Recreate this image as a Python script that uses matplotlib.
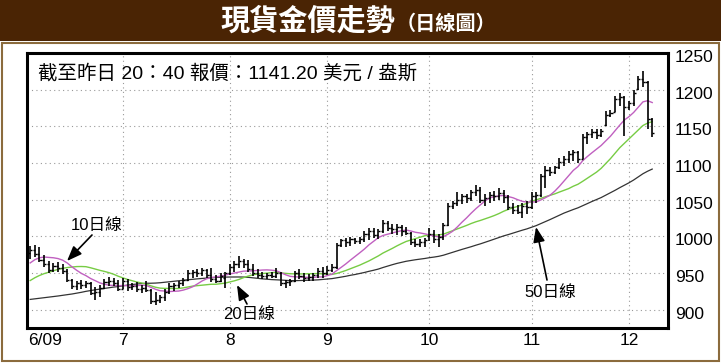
import matplotlib
matplotlib.use('Agg')
import matplotlib.pyplot as plt
import pandas as pd
from matplotlib.patches import Rectangle
import matplotlib.transforms as mtransforms

CJK = ['Liberation Sans', 'Noto Sans CJK TC', 'DejaVu Sans']

# closes before the first visible bar (only feed the moving averages)
warmup_close = [935, 930, 925, 918, 922, 915, 905, 898, 888, 880, 876, 870, 868, 875, 882,
                888, 892, 895, 893, 889, 886, 890, 895, 901, 906, 910, 903, 895, 890, 894,
                900, 906, 912, 915, 918, 922, 925, 920, 918, 924,
                932, 942, 952, 960, 965, 968, 975, 980, 984]

opens = [978, 982, 976, 968, 962, 955, 960, 957, 953, 941, 932, 936, 934, 937, 923, 925, 930, 938, 940, 937,
         929, 940, 931, 933, 928, 930, 927, 912, 914, 917, 925, 933, 934, 937, 941, 950, 952, 950, 954, 948, 942, 940, 944,
         950, 958, 962, 966, 962, 956, 950, 947, 946, 948, 946, 950, 936, 938, 940, 950, 946, 944, 945, 947, 953,
         950, 954, 958, 988, 995, 993, 996, 994, 997, 1004, 1008, 1002, 1007, 1018, 1012, 1010, 1013, 1008, 1005, 992, 990, 993,
         1000, 1004, 996, 999, 1016, 1041, 1045, 1050, 1055, 1052, 1060, 1064, 1050, 1053, 1057, 1055, 1059, 1054, 1040, 1036, 1034, 1041,
         1040, 1055, 1057, 1082, 1090, 1088, 1094, 1102, 1106, 1112, 1115, 1106, 1136, 1139, 1142, 1138, 1152, 1166, 1170, 1188, 1190,
         1176, 1182, 1201, 1214, 1210, 1160]
highs = [987, 988, 985, 975, 966, 964, 965, 962, 956, 942, 940, 941, 940, 938, 931, 934, 942, 945, 944, 941,
         944, 942, 936, 938, 934, 939, 928, 925, 920, 929, 936, 937, 940, 944, 954, 955, 956, 957, 956, 957, 947, 950, 952,
         962, 966, 974, 970, 968, 963, 956, 951, 950, 951, 957, 951, 941, 942, 953, 956, 950, 949, 950, 957, 958,
         960, 963, 991, 997, 998, 999, 998, 999, 1008, 1011, 1011, 1010, 1022, 1021, 1017, 1017, 1016, 1013, 1006, 997, 996, 998,
         1011, 1009, 1004, 1019, 1045, 1049, 1060, 1058, 1058, 1063, 1070, 1068, 1058, 1060, 1062, 1066, 1063, 1057, 1045, 1043, 1045, 1049,
         1060, 1060, 1085, 1096, 1094, 1096, 1107, 1110, 1117, 1118, 1117, 1140, 1142, 1147, 1146, 1147, 1171, 1172, 1192, 1195, 1192,
         1185, 1200, 1218, 1226, 1212, 1162]
lows = [970, 972, 965, 958, 950, 951, 952, 949, 938, 928, 927, 929, 930, 920, 913, 918, 928, 933, 932, 926,
        928, 926, 927, 925, 923, 924, 908, 906, 910, 912, 922, 926, 930, 932, 940, 944, 945, 946, 943, 938, 937, 938, 930,
        948, 951, 957, 957, 952, 946, 944, 942, 942, 943, 944, 932, 930, 933, 938, 942, 938, 939, 940, 944, 944,
        947, 951, 956, 985, 986, 987, 990, 990, 992, 995, 998, 997, 1005, 1007, 1004, 1002, 1001, 1002, 988, 986, 985, 986,
        994, 991, 986, 995, 1014, 1038, 1042, 1044, 1046, 1049, 1055, 1045, 1042, 1046, 1049, 1050, 1046, 1036, 1030, 1031, 1025, 1030,
        1038, 1046, 1054, 1066, 1083, 1085, 1092, 1096, 1100, 1103, 1100, 1105, 1126, 1134, 1133, 1135, 1150, 1163, 1170, 1178, 1137,
        1172, 1178, 1200, 1204, 1147, 1135]
closes = [982, 976, 968, 962, 955, 960, 957, 953, 941, 932, 936, 934, 937, 923, 925, 930, 938, 940, 937, 929,
          940, 931, 933, 928, 930, 927, 912, 914, 917, 925, 933, 934, 937, 941, 950, 952, 950, 954, 948, 942, 940, 946, 950,
          958, 962, 966, 962, 956, 950, 947, 946, 948, 946, 950, 936, 938, 940, 950, 946, 944, 945, 947, 953, 950,
          954, 958, 988, 995, 993, 996, 994, 997, 1004, 1008, 1002, 1007, 1018, 1012, 1010, 1013, 1008, 1005, 992, 990, 993, 995,
          1004, 996, 999, 1016, 1041, 1045, 1050, 1055, 1052, 1060, 1064, 1050, 1053, 1057, 1055, 1059, 1054, 1040, 1036, 1034, 1041, 1040,
          1055, 1057, 1082, 1090, 1088, 1094, 1102, 1106, 1112, 1115, 1106, 1136, 1139, 1142, 1138, 1144, 1166, 1168, 1188, 1190, 1176,
          1182, 1196, 1214, 1210, 1160, 1141]

month_labels = ['7', '8', '9', '10', '11', '12']
month_starts = ['2009-07-01', '2009-08-03', '2009-09-01', '2009-10-01', '2009-11-02', '2009-12-01']
y_ticks = [900, 950, 1000, 1050, 1100, 1150, 1200, 1250]

days = pd.bdate_range('2009-06-03', '2009-12-08')
x = list(range(len(days)))
month_pos = [days.get_loc(pd.Timestamp(d)) for d in month_starts]

full = pd.Series(warmup_close + closes)
n0 = len(warmup_close)
ma10 = full.rolling(10).mean().iloc[n0:].values
ma20 = full.rolling(20).mean().iloc[n0:].values
ma50 = full.rolling(50).mean().iloc[n0:].values

fig = plt.figure(figsize=(7.21, 3.63), dpi=100)
fig.patch.set_facecolor('white')

# banner + outer border
fig.patches.append(Rectangle((0, 1 - 41 / 363), 1, 41 / 363, transform=fig.transFigure,
                             facecolor='#4a2404', edgecolor='none', zorder=0))
fig.patches.append(Rectangle((1.5 / 721, 2 / 363), 717.5 / 721, 318 / 363, transform=fig.transFigure,
                             facecolor='none', edgecolor='#8b6b3d', lw=1.5, zorder=0))
fig.text(308 / 721, 1 - 21 / 363, '現貨金價走勢', color='white', fontsize=21, fontweight='bold',
         family='Noto Sans CJK TC', ha='center', va='center')
fig.text(446 / 721, 1 - 23 / 363, '（日線圖）', color='white', fontsize=14.5, fontweight='bold',
         family='Noto Sans CJK TC', ha='center', va='center')

ax = fig.add_axes([27 / 721, 1 - 327.5 / 363, 641 / 721, 274.5 / 363])
ax.set_xlim(-0.69, 137.4)
ax.set_ylim(876, 1250)

for m in month_pos:
    ax.axvline(m, color='#999999', lw=0.8, ls=(0, (1, 3)), zorder=1)
for v in y_ticks[:-1]:
    ax.axhline(v, color='#999999', lw=0.8, ls=(0, (1, 3)), zorder=1)

# OHLC bars
ax.vlines(x, lows, highs, color='black', lw=1.2, zorder=3)
ax.hlines(opens, [i - 0.45 for i in x], x, color='black', lw=1.0, zorder=3)
ax.hlines(closes, x, [i + 0.45 for i in x], color='black', lw=1.0, zorder=3)

ax.plot(x, ma50, color='#333333', lw=0.9, zorder=2)
ax.plot(x, ma20, color='#77cc44', lw=1.0, zorder=2)
ax.plot(x, ma10, color='#c060c0', lw=1.0, zorder=2)

for s in ax.spines.values():
    s.set_linewidth(2.2)
    s.set_color('black')

ax.yaxis.tick_right()
ax.set_yticks(y_ticks)
ax.set_yticklabels([str(v) for v in y_ticks], family='Liberation Sans', fontsize=12.5)
ax.set_xticks([3.2] + month_pos)
ax.set_xticklabels(['6/09'] + month_labels, family='Liberation Sans', fontsize=12.5)
ax.tick_params(axis='both', length=0)
ax.tick_params(axis='y', pad=5)
ax.tick_params(axis='x', pad=4)
off = mtransforms.ScaledTranslation(0, -3 / 100, fig.dpi_scale_trans)
for lab in ax.get_yticklabels():
    lab.set_transform(lab.get_transform() + off)

fig.text(38 / 721, 1 - 73 / 363, '截至昨日 20：40 報價：1141.20 美元 / 盎斯', family=CJK,
         fontsize=14, ha='left', va='center')

arrow = dict(arrowstyle='-|>,head_length=0.9,head_width=0.35', color='black', lw=1.2, shrinkA=0, shrinkB=0)
notes = [('10日線', (97, 225), (92, 235), (67, 261)),
         ('20日線', (249, 315), (247, 304), (237, 285)),
         ('50日線', (550, 292), (547, 280), (536, 227))]
for label, txt, start, tip in notes:
    fig.text(txt[0] / 721, 1 - txt[1] / 363, label, family=CJK, fontsize=12, ha='center', va='center')
    ax.annotate('', xy=(tip[0], 363 - tip[1]), xytext=(start[0], 363 - start[1]),
                xycoords='figure pixels', textcoords='figure pixels', arrowprops=arrow)

fig.savefig('out.png', dpi=100)
